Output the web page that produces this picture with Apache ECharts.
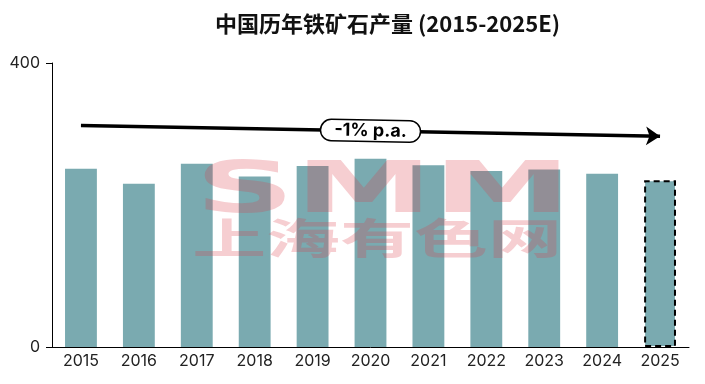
<!DOCTYPE html>
<html>
<head>
<meta charset="utf-8">
<script src="https://cdn.jsdelivr.net/npm/echarts@6/dist/echarts.min.js"></script>
<style>html,body{margin:0;padding:0;background:#fff}#c{width:705px;height:384px}</style>
</head>
<body>
<div id="c"></div>
<script>
var titleText = '中国历年铁矿石产量 (2015-2025E)';
var years = ['2015','2016','2017','2018','2019','2020','2021','2022','2023','2024','2025'];
var production = [251, 230, 258, 240, 255, 265, 256, 248, 250, 244, 235];
var yTicks = [0, 400];
var trendValues = [312, 297];
var trendLabel = '-1% p.a.';
var watermarkMain = 'SMM';
var watermarkSub = '上海有色网';

var chart = echarts.init(document.getElementById('c'), null, {renderer: 'canvas'});
var lastIdx = production.length - 1;
var barData = production.map(function (v, i) {
  if (i === lastIdx) {
    return {value: v, itemStyle: {borderColor: '#000', borderWidth: 2, borderType: [6, 4]}};
  }
  return v;
});
var labelFont = 'Inter, "Noto Sans", sans-serif';
var wmFill = 'rgba(220,60,70,0.25)';
chart.setOption({
  animation: false,
  backgroundColor: '#fff',
  title: {
    text: titleText,
    left: 210, top: 8,
    textStyle: {fontFamily: '"Noto Sans CJK SC", sans-serif', fontSize: 22, fontWeight: 'bold', color: '#111'}
  },
  grid: {left: 52, right: 16, top: 63, bottom: 37},
  xAxis: {
    type: 'category',
    data: years,
    axisLine: {lineStyle: {color: '#000', width: 1}},
    axisTick: {show: false},
    axisLabel: {color: '#222', fontSize: 16, fontFamily: labelFont, margin: 6}
  },
  yAxis: {
    type: 'value',
    min: yTicks[0], max: yTicks[yTicks.length - 1], interval: yTicks[1] - yTicks[0],
    axisLine: {show: true, lineStyle: {color: '#000', width: 1}},
    axisTick: {show: true, length: 6, lineStyle: {color: '#000'}},
    splitLine: {show: false},
    axisLabel: {color: '#222', fontSize: 16, fontFamily: labelFont, margin: 12}
  },
  graphic: [
    {type: 'text', x: 383, y: 157, scaleX: 1.93, z: 50, silent: true,
      style: {text: watermarkMain, x: 0, y: 0, textAlign: 'center', textVerticalAlign: 'top',
        font: 'bold 72px "DejaVu Sans"', fill: wmFill}},
    {type: 'text', x: 377, y: 217, scaleX: 1.76, z: 50, silent: true,
      style: {text: watermarkSub, x: 0, y: 0, textAlign: 'center', textVerticalAlign: 'top',
        font: 'bold 42px "Noto Sans CJK SC"', fill: wmFill}}
  ],
  series: [{
    type: 'bar',
    data: barData,
    barWidth: '55%',
    itemStyle: {color: '#7aaab0'},
    markLine: {
      silent: true,
      z: 100,
      symbol: ['none', 'arrow'],
      symbolSize: 14,
      lineStyle: {color: '#000', width: 3.5, type: 'solid'},
      label: {
        show: true, position: 'middle', formatter: trendLabel, distance: 0, verticalAlign: 'middle',
        color: '#000', fontSize: 18, fontWeight: 'bold', fontFamily: labelFont,
        backgroundColor: '#fff', borderColor: '#000', borderWidth: 1.5, borderRadius: 12,
        padding: [1, 13]
      },
      data: [[
        {coord: [years[0], trendValues[0]]},
        {coord: [years[lastIdx], trendValues[1]]}
      ]]
    }
  }]
});
</script>
</body>
</html>
